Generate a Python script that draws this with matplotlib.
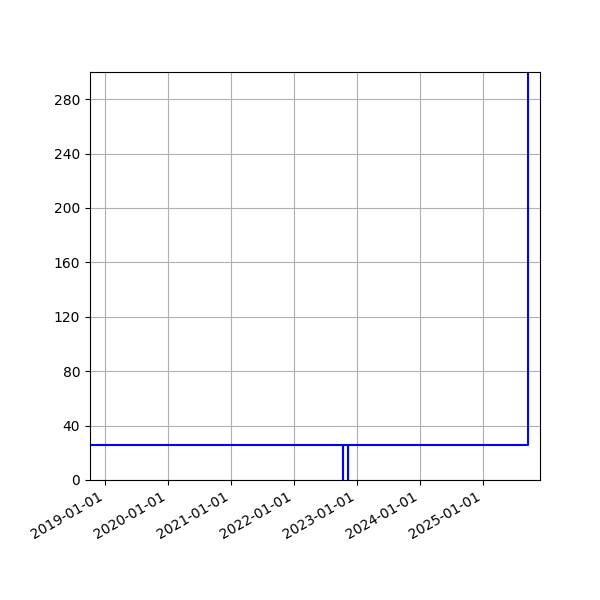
import numpy as np
import pandas as pd
import matplotlib
matplotlib.use("Agg")
import matplotlib.pyplot as plt
import matplotlib.dates as mdates
from matplotlib.ticker import MultipleLocator

# puntos de cambio de la serie (escalones)
fechas = ["2018-10-07", "2022-10-09", "2022-10-14", "2022-11-08", "2022-11-10",
          "2025-09-16", "2025-09-17"]
valores = [26, 0, 26, 0, 26, 400, 400]

x_min = "2018-10-07"
x_max = "2025-11-26"

fechas = pd.to_datetime(fechas)

fig, ax = plt.subplots(figsize=(6, 6), dpi=100)
ax.plot(fechas, valores, color="blue", drawstyle="steps-post", linewidth=1.5)

ax.set_xlim(pd.Timestamp(x_min), pd.Timestamp(x_max))
ax.set_ylim(0, 300)
ax.yaxis.set_major_locator(MultipleLocator(40))
ax.xaxis.set_major_locator(mdates.YearLocator())
ax.xaxis.set_major_formatter(mdates.DateFormatter("%Y-%m-%d"))
ax.grid(True)

fig.autofmt_xdate()
fig.subplots_adjust(left=0.15, right=0.9, top=0.88, bottom=0.2)
fig.savefig("out.png", dpi=100)
